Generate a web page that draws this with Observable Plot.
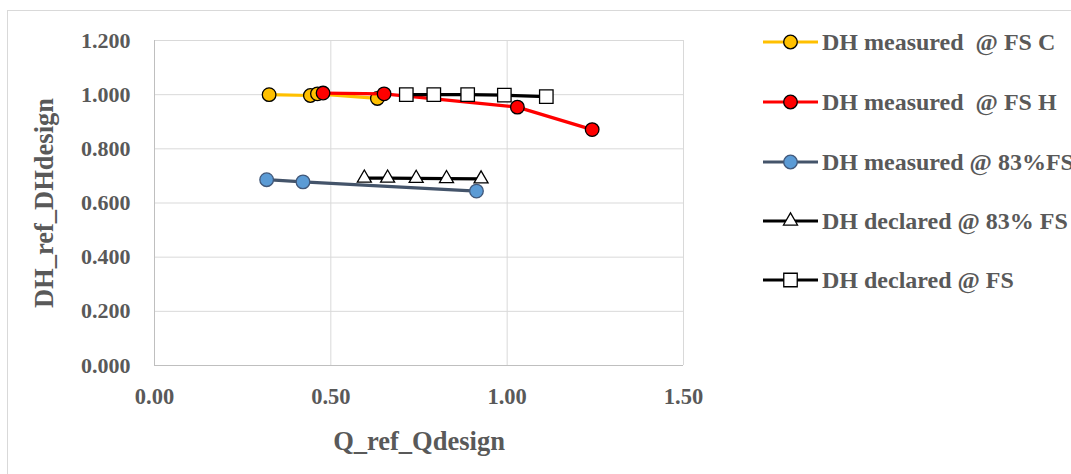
<!DOCTYPE html>
<html>
<head>
<meta charset="utf-8">
<script src="https://cdn.jsdelivr.net/npm/d3@7"></script>
<script src="https://cdn.jsdelivr.net/npm/@observablehq/plot@0.6"></script>
<style>
  html, body { margin: 0; padding: 0; background: #fff; overflow: hidden; }
  #wrap { position: relative; width: 1071px; height: 474px; overflow: hidden; }
  #frame { position: absolute; left: 7px; top: 10px; width: 1200px; height: 600px; border: 1px solid #d9d9d9; box-sizing: border-box; }
  #chart { position: absolute; left: 0; top: 0; }
  #legend { position: absolute; left: 763px; top: 0; font-family: "Liberation Serif", "Times New Roman", serif; font-weight: bold; font-size: 24px; color: #595959; }
  .item { position: absolute; left: 0; height: 24px; display: flex; align-items: center; white-space: pre; }
  .item svg { margin-right: 3px; }
</style>
</head>
<body>
<div id="wrap">
  <div id="frame"></div>
  <div id="chart"></div>
  <div id="legend"></div>
</div>
<script>
// Series names
const seriesNames = [
  "DH measured  @ FS C",
  "DH measured  @ FS H",
  "DH measured @ 83%FS",
  "DH declared @ 83% FS",
  "DH declared @ FS"
];
// Values
const fsC_x = [0.325, 0.442, 0.462, 0.632];
const fsC_y = [1.000, 0.997, 1.003, 0.986];
const fsH_x = [0.478, 0.651, 1.029, 1.241];
const fsH_y = [1.006, 1.003, 0.954, 0.871];
const m83_x = [0.318, 0.421, 0.913];
const m83_y = [0.686, 0.678, 0.644];
const d83_x = [0.595, 0.661, 0.742, 0.828, 0.926];
const d83_y = [0.692, 0.692, 0.691, 0.690, 0.689];
const dFS_x = [0.714, 0.792, 0.888, 0.992, 1.111];
const dFS_y = [1.000, 1.000, 1.000, 0.998, 0.993];

const xTicks = [0, 0.5, 1.0, 1.5];
const yTicks = [0, 0.2, 0.4, 0.6, 0.8, 1.0, 1.2];

const styles = [
  {line: "#FFC000", fill: "#FFC000", stroke: "#000000", symbol: "circle", r: 6.8},
  {line: "#FF0000", fill: "#FF0000", stroke: "#000000", symbol: "circle", r: 6.8},
  {line: "#44546A", fill: "#5B9BD5", stroke: "#41587A", symbol: "circle", r: 6.8},
  {line: "#000000", fill: "#FFFFFF", stroke: "#000000", symbol: "triangle", r: 5.2},
  {line: "#000000", fill: "#FFFFFF", stroke: "#000000", symbol: "square", r: 7.6}
];

const xs = [fsC_x, fsH_x, m83_x, d83_x, dFS_x];
const ys = [fsC_y, fsH_y, m83_y, d83_y, dFS_y];
const series = xs.map((xa, i) => xa.map((x, j) => ({x, y: ys[i][j], s: seriesNames[i]})));

const font = '"Liberation Serif", "Times New Roman", serif';
const marks = [
  Plot.gridX(xTicks, {stroke: "#d9d9d9", strokeOpacity: 1}),
  Plot.gridY(yTicks, {stroke: "#d9d9d9", strokeOpacity: 1}),
  Plot.ruleX([0], {stroke: "#bfbfbf"}),
  Plot.ruleY([0], {stroke: "#bfbfbf"}),
  Plot.axisX({ticks: xTicks, tickFormat: d3.format(".2f"), tickSize: 0, tickPadding: 23,
    label: null, fontSize: 22.5, fontWeight: "bold", fill: "#595959"}),
  Plot.axisX({ticks: [], label: "Q_ref_Qdesign", labelAnchor: "center", labelArrow: "none", labelOffset: 84,
    fontSize: 26.5, fontWeight: "bold", fill: "#595959", tickSize: 0}),
  Plot.axisY({ticks: yTicks, tickFormat: d3.format(".3f"), tickSize: 0, tickPadding: 24,
    label: null, fontSize: 22, fontWeight: "bold", fill: "#595959"}),
  Plot.axisY({ticks: [], label: "DH_ref_DHdesign", labelAnchor: "center", labelArrow: "none", labelOffset: 120,
    fontSize: 26.5, fontWeight: "bold", fill: "#595959", tickSize: 0})
];
series.forEach((data, i) => {
  const st = styles[i];
  marks.push(Plot.line(data, {x: "x", y: "y", stroke: st.line, strokeWidth: 3.2}));
  marks.push(Plot.dot(data, {x: "x", y: "y", symbol: st.symbol, r: st.r, fill: st.fill, stroke: st.stroke, strokeWidth: 1.3}));
});

const chart = Plot.plot({
  width: 1071,
  height: 474,
  marginLeft: 154,
  marginRight: 388,
  marginTop: 40,
  marginBottom: 109,
  style: {fontFamily: font, background: "transparent", overflow: "visible"},
  x: {domain: [0, 1.5]},
  y: {domain: [0, 1.2]},
  marks
});
document.getElementById("chart").appendChild(chart);

// Legend
const legendTops = [42, 102, 162, 221, 280];
const legend = document.getElementById("legend");
seriesNames.forEach((name, i) => {
  const st = styles[i];
  const item = document.createElement("div");
  item.className = "item";
  item.style.top = (legendTops[i] - 12) + "px";
  const sw = d3.create("svg").attr("width", 56).attr("height", 24);
  sw.append("line").attr("x1", 0).attr("x2", 55).attr("y1", 12).attr("y2", 12)
    .attr("stroke", st.line).attr("stroke-width", 3.2);
  sw.append("path").attr("transform", "translate(27.5,12)")
    .attr("d", d3.symbol(st.symbol === "circle" ? d3.symbolCircle : st.symbol === "triangle" ? d3.symbolTriangle : d3.symbolSquare, Math.PI * st.r * st.r)())
    .attr("fill", st.fill).attr("stroke", st.stroke).attr("stroke-width", 1.3);
  item.appendChild(sw.node());
  const t = document.createElement("span");
  t.textContent = name;
  item.appendChild(t);
  legend.appendChild(item);
});
</script>
</body>
</html>
